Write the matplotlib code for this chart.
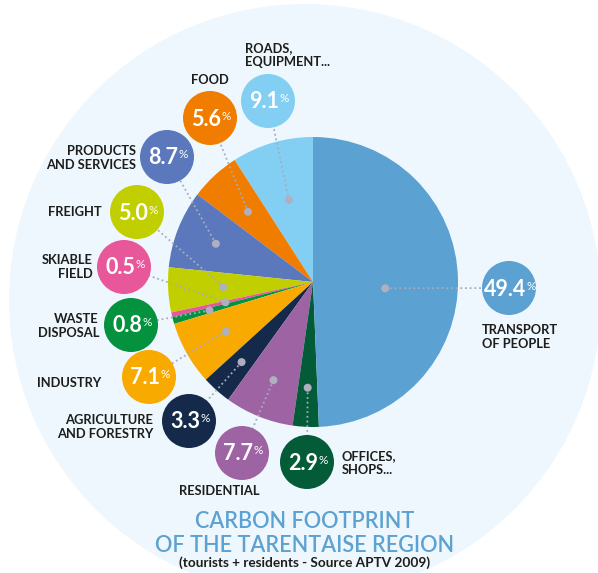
import matplotlib
matplotlib.use("Agg")
import matplotlib.pyplot as plt
from matplotlib.patches import Circle
import numpy as np

# ---------------- data ----------------
categories = ["ROADS,\nEQUIPMENT...", "FOOD", "PRODUCTS\nAND SERVICES", "FREIGHT",
              "SKIABLE\nFIELD", "WASTE\nDISPOSAL", "INDUSTRY", "AGRICULTURE\nAND FORESTRY",
              "RESIDENTIAL", "OFFICES,\nSHOPS...", "TRANSPORT\nOF PEOPLE"]
values = [9.1, 5.6, 8.7, 5.0, 0.5, 0.8, 7.1, 3.3, 7.7, 2.9, 49.4]
value_labels = ["9.1", "5.6", "8.7", "5.0", "0.5", "0.8", "7.1", "3.3", "7.7", "2.9", "49.4"]
colors = ["#82cff3", "#f07d00", "#5b78bc", "#c1cf00", "#e8579a", "#04923f",
          "#f8aa00", "#152a4a", "#9e63a3", "#045b38", "#5ba1d2"]

title_lines = ["CARBON FOOTPRINT", "OF THE TARENTAISE REGION"]
subtitle = "(tourists + residents - Source APTV 2009)"

# ---------------- layout (pixel space, y measured from top) ----------------
W, H = 598, 573
def P(x, y):
    return (x, H - y)

pie_center = (313, 282)
pie_radius = 145
# bubble centers
bubbles = [(268, 101), (210, 118), (167, 157), (137, 212), (124, 267), (131, 325),
           (149, 377), (189, 421), (242, 453), (307, 462), (509, 288)]
bubble_r = 27
dot_rfrac = [0.59, 0.66, 0.72, 0.62, 0.62, 0.74, 0.69, 0.74, 0.73, 0.73, 0.50]
dot_angle_override = {10: -5.0}
# label positions / alignment
label_pos = [((245, 55), 'left'), ((210, 80), 'center'), ((136, 158), 'right'),
             ((102, 212), 'right'), ((93, 267), 'right'), ((99, 326), 'right'),
             ((101, 383), 'right'), ((153, 427), 'right'), ((219, 491), 'center'),
             ((342, 463), 'left'), ((482, 337), 'left')]

fig = plt.figure(figsize=(W / 100, H / 100), dpi=100)
ax = fig.add_axes([0, 0, 1, 1])

FONT = ['Lato', 'DejaVu Sans']

# background circle
ax.add_patch(Circle(P(305, 300), 296, facecolor="#eef7fd", edgecolor='none', zorder=0))

wedges, _ = ax.pie(values, colors=colors, startangle=90, counterclock=True,
                   center=P(*pie_center), radius=pie_radius,
                   wedgeprops=dict(linewidth=0))
for w in wedges:
    w.set_zorder(1)

ax.set_xlim(0, W)
ax.set_ylim(0, H)
ax.set_aspect('equal')
ax.axis('off')

cx, cy = P(*pie_center)
for i, w in enumerate(wedges):
    ang = np.deg2rad(dot_angle_override.get(i, (w.theta1 + w.theta2) / 2))
    r = pie_radius * dot_rfrac[i]
    dx, dy = cx + r * np.cos(ang), cy + r * np.sin(ang)
    bx, by = P(*bubbles[i])
    ax.plot([dx, bx], [dy, by], linestyle=(0, (1, 1.6)), color="#a9abbd", lw=1.3, zorder=2)
    ax.add_patch(Circle((dx, dy), 4, facecolor="#aeb0c2", edgecolor='none', zorder=3))
    ax.add_patch(Circle((bx, by), bubble_r, facecolor=colors[i], edgecolor='none', zorder=4))
    (lx, ly), ha = label_pos[i]
    lx, ly = P(lx, ly)
    ax.text(lx, ly, categories[i], ha=ha, va='center', fontsize=9.3, fontweight='bold',
            family=FONT, color="#1d1d1b", linespacing=1.12, zorder=5)

# percentages
num_texts = []
for i in range(len(values)):
    bx, by = P(*bubbles[i])
    t = ax.text(bx - 4, by - 1, value_labels[i], ha='center', va='center', fontsize=15.5,
                fontweight='bold', family=FONT, color='white', zorder=6)
    num_texts.append(t)
fig.canvas.draw()
renderer = fig.canvas.get_renderer()
inv = ax.transData.inverted()
for t in num_texts:
    bb = t.get_window_extent(renderer)
    x1, y1 = inv.transform((bb.x1, bb.y1))
    ax.text(x1 + 0.3, y1 - 2, "%", ha='left', va='top', fontsize=8.5, family=FONT,
            color='white', zorder=6)

# title
ax.text(*P(305, 522), title_lines[0], ha='center', va='center', fontsize=15.6,
        family=FONT, color="#5ba1d2", fontweight='semibold')
ax.text(*P(305, 545), title_lines[1], ha='center', va='center', fontsize=15.6,
        family=FONT, color="#5ba1d2", fontweight='semibold')
ax.text(*P(305, 563), subtitle, ha='center', va='center', fontsize=9.8,
        family=FONT, color="#1d1d1b", fontweight='bold')

fig.savefig("out.png", dpi=100, facecolor='white')
